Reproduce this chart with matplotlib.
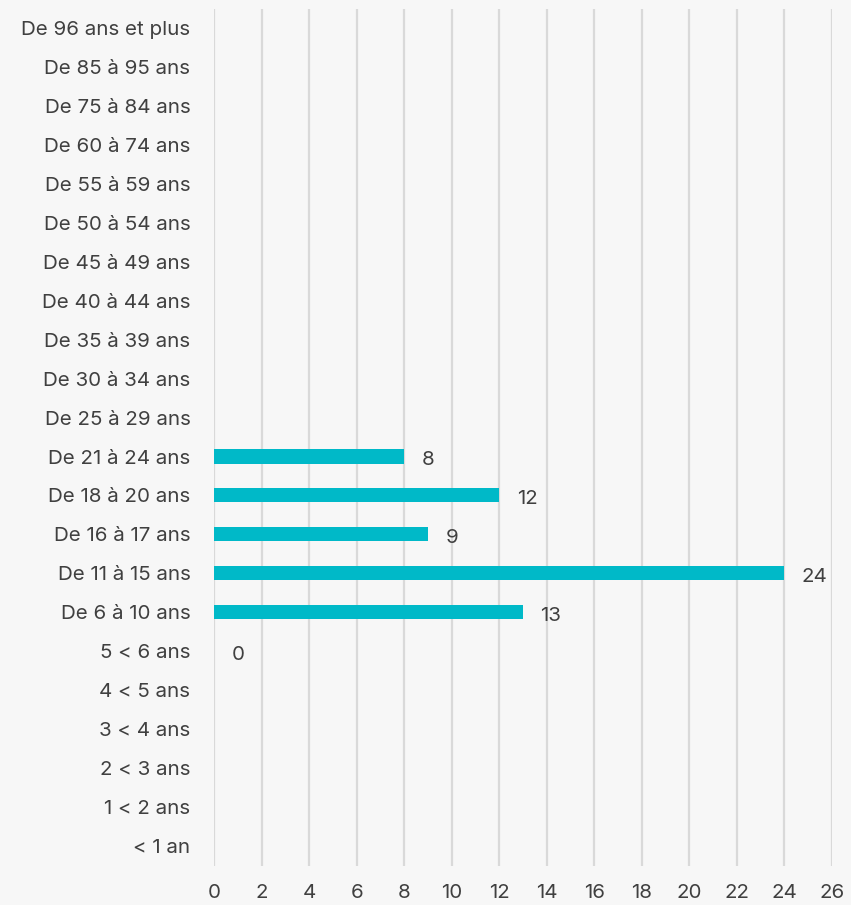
import numpy as np
from matplotlib import pyplot as plt

# age groups, bottom to top
categories = ["< 1 an", "1 < 2 ans", "2 < 3 ans", "3 < 4 ans", "4 < 5 ans", "5 < 6 ans",
              "De 6 à 10 ans", "De 11 à 15 ans", "De 16 à 17 ans", "De 18 à 20 ans",
              "De 21 à 24 ans", "De 25 à 29 ans", "De 30 à 34 ans", "De 35 à 39 ans",
              "De 40 à 44 ans", "De 45 à 49 ans", "De 50 à 54 ans", "De 55 à 59 ans",
              "De 60 à 74 ans", "De 75 à 84 ans", "De 85 à 95 ans", "De 96 ans et plus"]
values = [None, None, None, None, None, 0,
          13, 24, 9, 12, 8, None, None, None,
          None, None, None, None, None, None, None, None]
xticks = list(range(0, 27, 2))

bg = "#f7f7f7"
bar_color = "#00b9c8"
text_color = "#404040"
fs = 14.8

plt.rcParams["font.family"] = ["Inter", "DejaVu Sans"]

fig = plt.figure(figsize=(8.51, 9.05), dpi=100, facecolor=bg)
ax = fig.add_axes([0.2515, 0.0436, 0.7262, 0.947])
ax.set_facecolor(bg)

y = np.arange(len(categories))
vals = [v if v is not None else 0 for v in values]
ax.barh(y, vals, height=0.36, color=bar_color, zorder=3)

for yi, v in zip(y, values):
    if v is None:
        continue
    ax.annotate(str(v), xy=(v, yi), xytext=(12.5, -2.5), textcoords="offset points",
                ha="left", va="center", fontsize=fs, color=text_color)

ax.set_xlim(0, 26)
ax.set_ylim(-0.5, len(categories) - 0.5)
ax.set_xticks(xticks)
ax.set_yticks(y)
ax.set_yticklabels(categories)
ax.tick_params(axis="both", length=0, labelsize=fs, labelcolor=text_color)
ax.tick_params(axis="y", pad=17)
ax.tick_params(axis="x", pad=13)
ax.grid(axis="x", color="#d9d9d9", linewidth=1.6, zorder=0)
for s in ax.spines.values():
    s.set_visible(False)

fig.savefig("out.png", dpi=100, facecolor=bg)
